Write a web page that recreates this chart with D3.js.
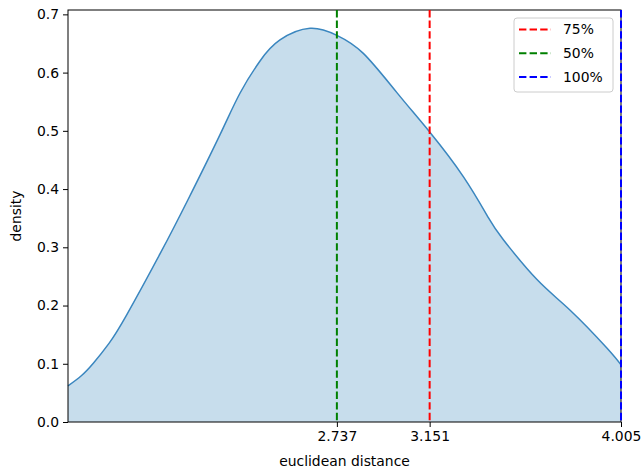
<!DOCTYPE html>
<html>
<head>
<meta charset="utf-8">
<script src="https://cdn.jsdelivr.net/npm/d3@7"></script>
<style>
  body { margin: 0; background: #fff; }
  text { font-family: "DejaVu Sans", sans-serif; fill: #000; }
</style>
</head>
<body>
<div id="chart-area"></div>
<script>
// kde curve
var distX = [1.537, 1.595, 1.650, 1.720, 1.799, 1.948, 2.074, 2.216, 2.305, 2.394, 2.483, 2.617,
             2.737, 2.855, 3.004, 3.151, 3.302, 3.413, 3.480, 3.629, 3.778, 3.942, 4.005];
var densY = [0.062, 0.079, 0.101, 0.135, 0.184, 0.289, 0.383, 0.494, 0.565, 0.620, 0.656, 0.676,
             0.664, 0.633, 0.566, 0.498, 0.421, 0.351, 0.313, 0.245, 0.192, 0.127, 0.098];

var lineNames = ["75%", "50%", "100%"];
var lineValues = [3.151, 2.737, 4.005];
var lineColors = ["red", "green", "blue"];

var yTicks = [0, 0.1, 0.2, 0.3, 0.4, 0.5, 0.6, 0.7];

var W = 644, H = 470;
var margin = {left: 68, top: 10, right: 23, bottom: 48};
var w = W - margin.left - margin.right;
var h = H - margin.top - margin.bottom;

var svg = d3.select("#chart-area").append("svg")
    .attr("width", W)
    .attr("height", H);

var g = svg.append("g")
    .attr("transform", "translate(" + margin.left + "," + margin.top + ")");

var x = d3.scaleLinear()
    .domain([1.537, 4.005])
    .range([0, w]);

var y = d3.scaleLinear()
    .domain([0, 0.7075])
    .range([h, 0]);

var data = distX.map((d, i) => { return {x: d, y: densY[i]}; });

var area = d3.area()
    .x((d) => x(d.x))
    .y0(y(0))
    .y1((d) => y(d.y))
    .curve(d3.curveNatural);

var line = d3.line()
    .x((d) => x(d.x))
    .y((d) => y(d.y))
    .curve(d3.curveNatural);

g.append("path")
    .datum(data)
    .attr("d", area)
    .attr("fill", "#1f77b4")
    .attr("fill-opacity", 0.25);

g.append("path")
    .datum(data)
    .attr("d", line)
    .attr("fill", "none")
    .attr("stroke", "#3a86bf")
    .attr("stroke-width", 1.5);

// spines
g.append("rect")
    .attr("x", 0).attr("y", 0)
    .attr("width", w).attr("height", h)
    .attr("fill", "none")
    .attr("stroke", "#000")
    .attr("stroke-width", 1);

// vertical percentile lines
g.selectAll(".vline")
    .data(lineValues)
    .enter()
    .append("line")
        .attr("class", "vline")
        .attr("x1", (d) => x(d))
        .attr("x2", (d) => x(d))
        .attr("y1", 0)
        .attr("y2", h)
        .attr("stroke", (d, i) => lineColors[i])
        .attr("stroke-width", 2)
        .attr("stroke-dasharray", "7.4,3.2");

// axes
var yAxis = d3.axisLeft(y)
    .tickValues(yTicks)
    .tickFormat(d3.format(".1f"))
    .tickSize(5)
    .tickPadding(4);

var xAxis = d3.axisBottom(x)
    .tickValues(lineValues.slice().sort())
    .tickFormat(d3.format(".3f"))
    .tickSize(5)
    .tickPadding(4);

var ya = g.append("g").call(yAxis);
var xa = g.append("g").attr("transform", "translate(0," + h + ")").call(xAxis);

[ya, xa].forEach((a) => {
    a.select(".domain").remove();
    a.selectAll("line").attr("stroke", "#000").attr("stroke-width", 1);
    a.selectAll("text")
        .style("font-family", "DejaVu Sans")
        .style("font-size", "13.9px")
        .attr("fill", "#000");
});

svg.append("text")
    .attr("x", margin.left + w / 2)
    .attr("y", 466)
    .attr("text-anchor", "middle")
    .style("font-size", "13.9px")
    .text("euclidean distance");

svg.append("text")
    .attr("transform", "translate(21," + (margin.top + h / 2) + ") rotate(-90)")
    .attr("text-anchor", "middle")
    .style("font-size", "13.9px")
    .text("density");

// legend
var leg = svg.append("g").attr("transform", "translate(514,18)");
leg.append("rect")
    .attr("width", 99)
    .attr("height", 74)
    .attr("rx", 3)
    .attr("fill", "#fff")
    .attr("fill-opacity", 0.8)
    .attr("stroke", "#ccc")
    .attr("stroke-width", 1);

var rows = leg.selectAll(".row")
    .data(lineNames)
    .enter()
    .append("g")
        .attr("transform", (d, i) => "translate(0," + (11.5 + i * 23.8) + ")");

rows.append("line")
    .attr("x1", 5).attr("x2", 37)
    .attr("stroke", (d, i) => lineColors[i])
    .attr("stroke-width", 2)
    .attr("stroke-dasharray", "7.4,3.2");

rows.append("text")
    .attr("x", 49)
    .attr("dy", "0.35em")
    .style("font-size", "13.9px")
    .text((d) => d);
</script>
</body>
</html>
